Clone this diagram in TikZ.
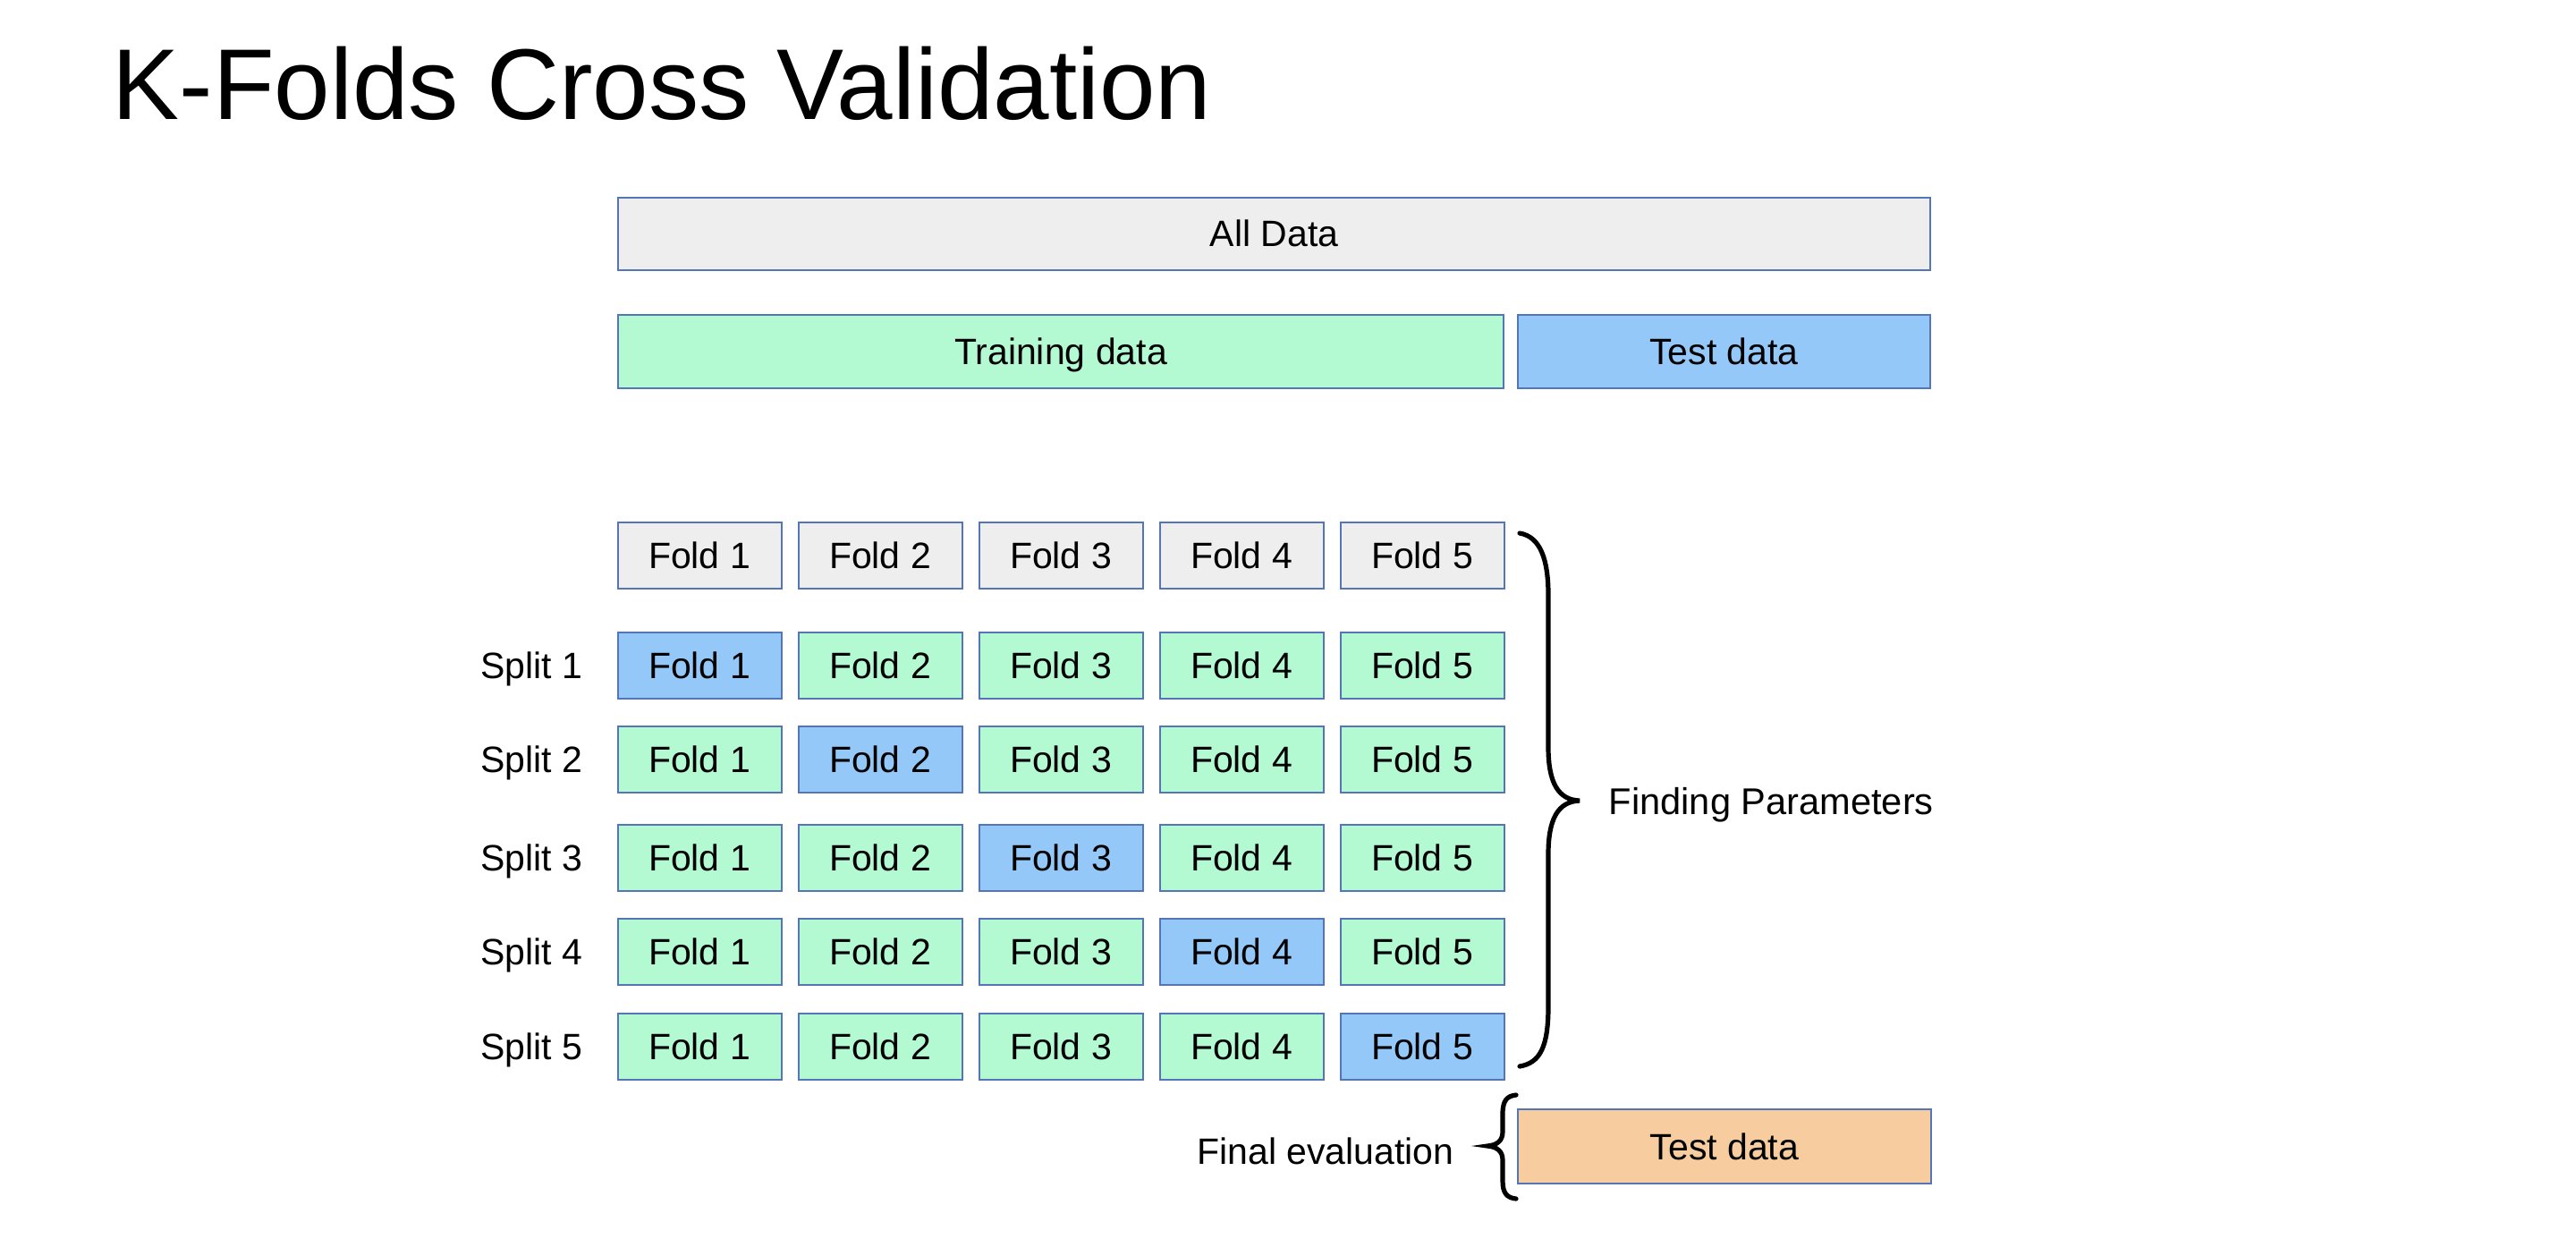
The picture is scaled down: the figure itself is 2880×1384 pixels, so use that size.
\documentclass[tikz,border=0pt]{standalone}
\usepackage{fontspec}
\setmainfont{Liberation Sans}
\definecolor{cgrey}{RGB}{238,238,238}
\definecolor{cgreen}{RGB}{179,250,210}
\definecolor{cblue}{RGB}{148,200,249}
\definecolor{corange}{RGB}{247,204,159}
\definecolor{cborder}{RGB}{84,118,182}
\begin{document}
\begin{tikzpicture}[x=0.25pt,y=-0.25pt,
  box/.style={draw=cborder,line width=0.5pt,inner sep=0pt,text height=0.73em,text depth=0pt,font=\fontsize{10.25}{12}\selectfont},
  fold/.style={box,minimum width=45.75pt,minimum height=18.5pt},
  lbl/.style={inner sep=0pt,text height=0.73em,text depth=0pt,font=\fontsize{10.25}{12}\selectfont},
  brace/.style={line width=1.3pt,line cap=round}]
\useasboundingbox[fill=white] (0,0) rectangle (2880,1384);
\node[anchor=base west,inner sep=0pt,font=\fontsize{28.1}{32}\selectfont] (title) at (125,133) {K-Folds Cross Validation};
\node[box,fill=cgrey,minimum width=366.75pt,minimum height=20.25pt] (all) at (1424.5,261) {All Data};
\node[box,fill=cgreen,minimum width=247.5pt,minimum height=20.5pt] (train) at (1186,393) {Training data};
\node[box,fill=cblue,minimum width=115.25pt,minimum height=20.5pt] (test) at (1927.5,393) {Test data};
% header folds
\foreach \c/\x in {1/782,2/984,3/1186,4/1388,5/1590}{
  \node[fold,fill=cgrey] (h\c) at (\x,621) {Fold \c};
}
% splits
\foreach \r/\y in {1/744,2/848.5,3/959,4/1063.5,5/1170}{
  \node[lbl] (s\r) at (594,\y) {Split \r};
  \foreach \c/\x in {1/782,2/984,3/1186,4/1388,5/1590}{
    \ifnum\c=\r
      \node[fold,fill=cblue] (f\r\c) at (\x,\y) {Fold \c};
    \else
      \node[fold,fill=cgreen] (f\r\c) at (\x,\y) {Fold \c};
    \fi
  }
}
% big brace
\draw[brace] (1699,596) .. controls (1722,600) and (1731,625) .. (1731,665)
  -- (1731,835) .. controls (1731,875) and (1742,894) .. (1766,895)
  .. controls (1742,896) and (1731,915) .. (1731,955)
  -- (1731,1125) .. controls (1731,1170) and (1722,1188) .. (1699,1192);
\begin{scope}
\clip (1780,850) rectangle (2159,950);
\node[lbl,anchor=west,font=\fontsize{10.4}{12}\selectfont] (fp) at (1798,896) {Finding Parameters};
\end{scope}
% final evaluation
\node[box,fill=corange,minimum width=115.5pt,minimum height=20.75pt] (final) at (1928,1281.5) {Test data};
\draw[brace] (1695,1224) .. controls (1685,1225) and (1680,1230) .. (1680,1245)
  -- (1680,1265) .. controls (1680,1275) and (1674,1280) .. (1663,1281)
  .. controls (1674,1282) and (1680,1287) .. (1680,1297)
  -- (1680,1320) .. controls (1680,1334) and (1685,1339) .. (1695,1340);
\node[lbl] (fe) at (1482,1287) {Final evaluation};
\end{tikzpicture}
\end{document}
